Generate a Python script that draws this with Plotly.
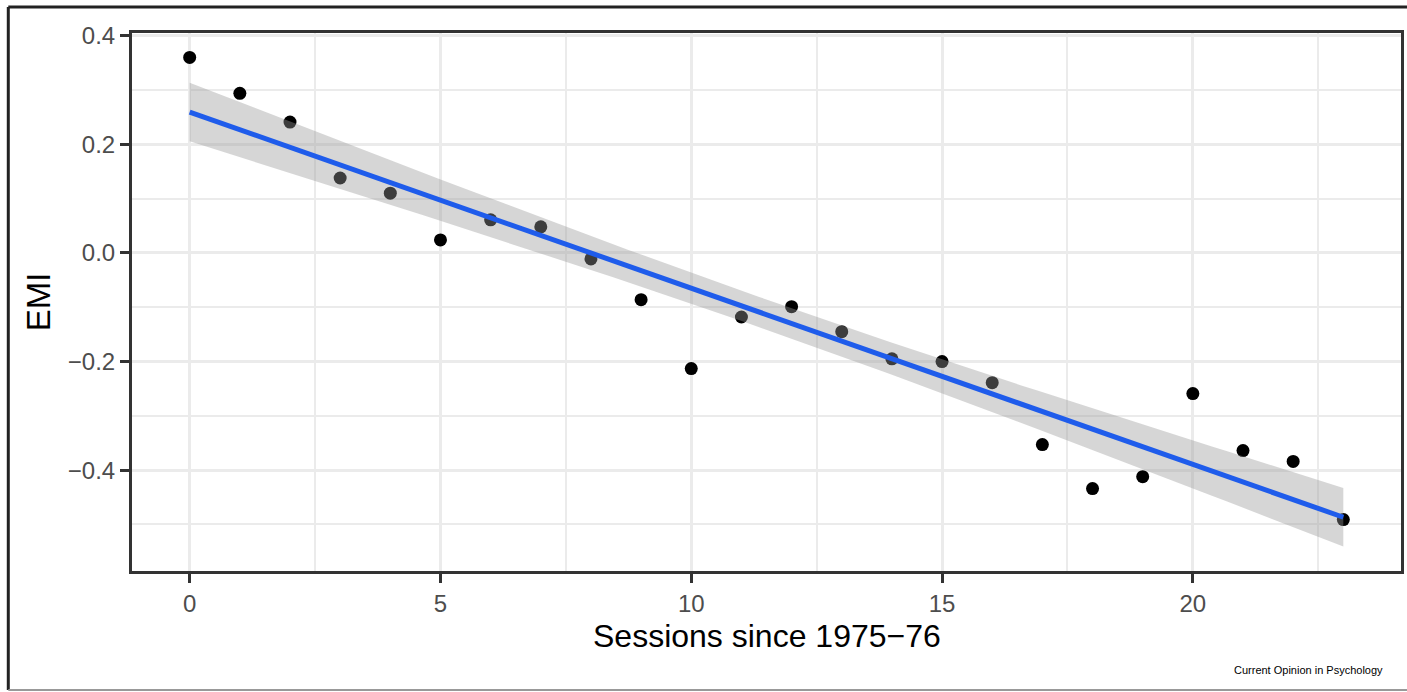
import numpy as np
import plotly.graph_objects as go

# ---- data ----
sessions = list(range(24))
emi = [0.360, 0.294, 0.241, 0.138, 0.110, 0.024, 0.061, 0.048, -0.011, -0.086,
       -0.213, -0.118, -0.099, -0.145, -0.195, -0.200, -0.239, -0.353, -0.434,
       -0.412, -0.259, -0.364, -0.384, -0.491]
x_ticks = [0, 5, 10, 15, 20]
y_ticks = [0.4, 0.2, 0.0, -0.2, -0.4]
y_tick_labels = ["0.4", "0.2", "0.0", "\u22120.2", "\u22120.4"]

# ---- linear fit with 95% CI (like geom_smooth(method="lm")) ----
x = np.array(sessions, dtype=float)
y = np.array(emi)
n = len(x)
b1, b0 = np.polyfit(x, y, 1)
resid = y - (b0 + b1 * x)
s = np.sqrt(np.sum(resid ** 2) / (n - 2))
xbar = x.mean()
sxx = np.sum((x - xbar) ** 2)
t975 = 2.0739  # t quantile, df = 22
xg = np.linspace(x.min(), x.max(), 80)
yg = b0 + b1 * xg
se = s * np.sqrt(1.0 / n + (xg - xbar) ** 2 / sxx)
lo = yg - t975 * se
hi = yg + t975 * se

W, H = 1407, 692
L, R, T, B = 132, 3, 33, 121
pw, ph = W - L - R, H - T - B

def px(xp):
    return (xp - L) / pw

def py(yp):
    return (H - B - yp) / ph

FONT = "Liberation Sans, Arial, sans-serif"

fig = go.Figure()
fig.add_trace(go.Scatter(x=sessions, y=emi, mode="markers",
                         marker=dict(color="black", size=13, line=dict(width=0)),
                         showlegend=False, hoverinfo="x+y"))
fig.add_trace(go.Scatter(x=xg, y=lo, mode="lines", line=dict(width=0),
                         showlegend=False, hoverinfo="skip"))
fig.add_trace(go.Scatter(x=xg, y=hi, mode="lines", line=dict(width=0),
                         fill="tonexty", fillcolor="rgba(153,153,153,0.4)",
                         showlegend=False, hoverinfo="skip"))
fig.add_trace(go.Scatter(x=xg, y=yg, mode="lines",
                         line=dict(color="#1F5CEB", width=5),
                         showlegend=False, hoverinfo="skip"))

span = x.max() - x.min()
ymin = min(lo.min(), y.min()); ymax = max(hi.max(), y.max())
yspan = ymax - ymin

axis_common = dict(
    showline=True, mirror=True, linecolor="#333333", linewidth=3,
    ticks="outside", ticklen=9, tickwidth=3, tickcolor="#333333",
    showgrid=True, gridcolor="#EBEBEB", gridwidth=3, zeroline=False,
    tickfont=dict(family=FONT, size=24, color="#4D4D4D"),
)

fig.update_xaxes(range=[x.min() - 0.05 * span, x.max() + 0.05 * span],
                 tickmode="array", tickvals=x_ticks, ticktext=[str(v) for v in x_ticks],
                 minor=dict(tickmode="array", tickvals=[2.5, 7.5, 12.5, 17.5, 22.5],
                            showgrid=True, gridcolor="#EBEBEB", gridwidth=1.5, ticks=""),
                 **axis_common)
fig.update_yaxes(range=[ymin - 0.05 * yspan, ymax + 0.05 * yspan],
                 tickmode="array", tickvals=y_ticks, ticktext=y_tick_labels,
                 minor=dict(tickmode="array", tickvals=[0.3, 0.1, -0.1, -0.3, -0.5],
                            showgrid=True, gridcolor="#EBEBEB", gridwidth=1.5, ticks=""),
                 **axis_common)

# outer frame
fig.add_shape(type="line", xref="paper", yref="paper", x0=px(8), x1=px(1410), y0=py(7), y1=py(7),
              line=dict(color="#222222", width=3))
fig.add_shape(type="line", xref="paper", yref="paper", x0=px(8), x1=px(8), y0=py(7), y1=py(690),
              line=dict(color="#222222", width=3))
fig.add_shape(type="line", xref="paper", yref="paper", x0=px(8), x1=px(1410), y0=py(690), y1=py(690),
              line=dict(color="#999999", width=2))

fig.add_annotation(text="Sessions since 1975\u221276", xref="paper", yref="paper",
                   x=px(768), y=py(636), showarrow=False, xanchor="center", yanchor="middle",
                   font=dict(family=FONT, size=32, color="black"))
fig.add_annotation(text="EMI", xref="paper", yref="paper", textangle=-90,
                   x=px(38), y=py(302), showarrow=False, xanchor="center", yanchor="middle",
                   font=dict(family=FONT, size=33, color="black"))
fig.add_annotation(text="Current Opinion in Psychology", xref="paper", yref="paper",
                   x=px(1388), y=py(670), showarrow=False, xanchor="right", yanchor="middle",
                   font=dict(family=FONT, size=11, color="black"))

fig.update_layout(width=W, height=H, margin=dict(l=L, r=R, t=T, b=B),
                  plot_bgcolor="white", paper_bgcolor="white", showlegend=False)

fig.write_html("out.html", config={"displayModeBar": False},
               post_script="document.body.style.margin='0';document.body.style.overflow='hidden';")
